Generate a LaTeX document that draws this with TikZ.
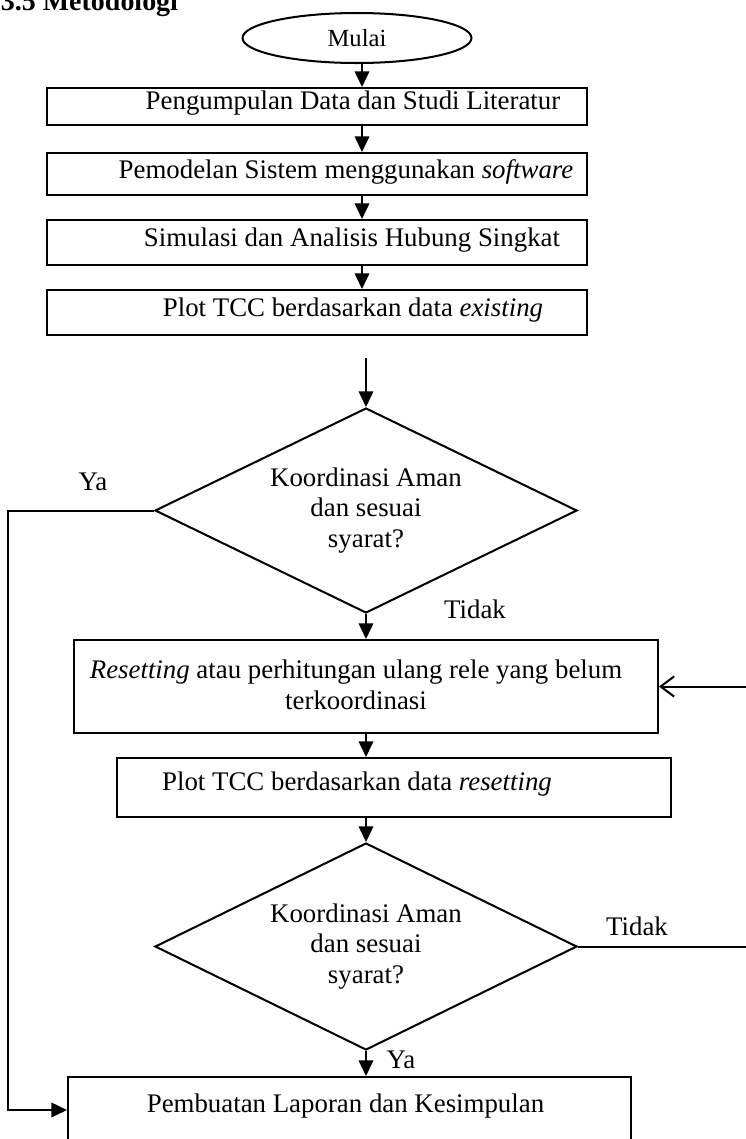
\documentclass[tikz,border=0pt]{standalone}
\usepackage{fontspec}
\setmainfont{Liberation Serif}
\usetikzlibrary{shapes.geometric,arrows.meta}
\newdimen\px \px=0.447pt
\tikzset{
  garis/.style={line width=0.9pt},
  panah/.style={garis,-{Triangle[width=6.5pt,length=7pt]}},
  teks/.style={inner sep=0pt,align=center,font=\fontsize{12}{13.8}\selectfont},
  kotak/.style={draw,garis,rectangle,inner sep=0pt},
  terminal/.style={draw,garis,ellipse,inner sep=0pt,font=\fontsize{11}{13}\selectfont},
  putusan/.style={draw,garis,diamond,aspect=2.05,inner sep=0pt,align=center,font=\fontsize{12}{13.8}\selectfont},
  ket/.style={anchor=base,font=\fontsize{12}{13.8}\selectfont}
}
\begin{document}
\begin{tikzpicture}[x=0.447pt,y=-0.447pt]
\useasboundingbox (0,0) rectangle (746,1139);
\node[anchor=base west,font=\bfseries\fontsize{12.5}{15}\selectfont] (judul) at (-7,10) {3.5 Metodologi};
% blok proses
\node[terminal,minimum width=229\px,minimum height=50\px] (mulai) at (357,38) {Mulai};
\node[kotak,minimum width=540\px,minimum height=37\px,
  label={[teks,xshift=36\px,yshift=3\px]center:Pengumpulan Data dan Studi Literatur}] (kumpul) at (317,106.5) {};
\node[kotak,minimum width=540\px,minimum height=42\px,
  label={[teks,xshift=29\px,yshift=2\px]center:Pemodelan Sistem menggunakan \textit{software}}] (model) at (317,174) {};
\node[kotak,minimum width=540\px,minimum height=45\px,
  label={[teks,xshift=35\px,yshift=2\px]center:Simulasi dan Analisis Hubung Singkat}] (simulasi) at (317,242.5) {};
\node[kotak,minimum width=540\px,minimum height=45\px,
  label={[teks,xshift=36\px,yshift=2\px]center:Plot TCC berdasarkan data \textit{existing}}] (plotA) at (317,312.5) {};
\node[putusan,minimum width=422\px,minimum height=205\px] (cekA) at (366,510.5) {Koordinasi Aman\\dan sesuai\\syarat?};
\node[kotak,minimum width=584\px,minimum height=93\px,
  label={[teks,xshift=-10\px,yshift=2\px]center:\textit{Resetting} atau perhitungan ulang rele yang belum\\terkoordinasi}] (reset) at (366,686.5) {};
\node[kotak,minimum width=554\px,minimum height=59\px,
  label={[teks,xshift=-37\px,yshift=3\px]center:Plot TCC berdasarkan data \textit{resetting}}] (plotB) at (394,787.5) {};
\node[putusan,minimum width=422\px,minimum height=207\px] (cekB) at (366,946.5) {Koordinasi Aman\\dan sesuai\\syarat?};
\node[kotak,minimum width=563\px,minimum height=66\px,
  label={[teks,xshift=-4\px,yshift=4\px]center:Pembuatan Laporan dan Kesimpulan}] (lapor) at (349.5,1110) {};
% keterangan
\node[ket] (yaA) at (93,490) {Ya};
\node[ket] (tidakA) at (475,618) {Tidak};
\node[ket] (tidakB) at (637,935) {Tidak};
\node[ket] (yaB) at (401,1068) {Ya};
\coordinate (poros) at (362,0);
\coordinate (kiri) at (8,0);
\coordinate (kanan) at (752,0);
\coordinate (awalA) at (366,358);
% alur
\draw[panah] (mulai.south -| poros) -- (kumpul.north -| poros);
\draw[panah] (kumpul.south -| poros) -- (model.north -| poros);
\draw[panah] (model.south -| poros) -- (simulasi.north -| poros);
\draw[panah] (simulasi.south -| poros) -- (plotA.north -| poros);
\draw[panah] (awalA) -- (cekA.north);
\draw[panah] (cekA.south) -- (reset.north -| cekA.south);
\draw[panah] (reset.south -| cekA.south) -- (plotB.north -| cekA.south);
\draw[panah] (plotB.south -| cekB.north) -- (cekB.north);
\draw[panah] (cekB.south) -- (lapor.north -| cekB.south);
\draw[panah] (cekA.west) -- (cekA.west -| kiri) |- (lapor.west);
\draw[garis,-{Straight Barb[length=6pt,width=9pt]}] (cekB.east) -- (cekB.east -| kanan) |- (reset.east);
\end{tikzpicture}
\end{document}
